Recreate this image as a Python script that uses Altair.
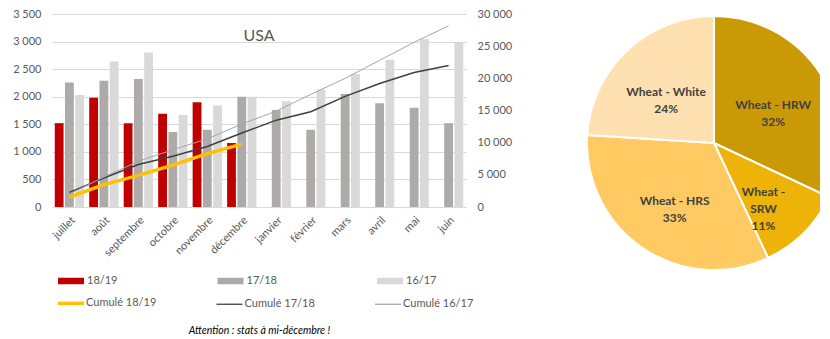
import altair as alt
import pandas as pd

# ---------------- data ----------------
months = ["juillet", "août", "septembre", "octobre", "novembre", "décembre",
          "janvier", "février", "mars", "avril", "mai", "juin"]
bar_series = ["18/19", "17/18", "16/17"]
bar_colors = ["#C00000", "#AEAAAA", "#D9D9D9"]
m_1819 = [1520, 1980, 1520, 1690, 1900, 1160]
m_1718 = [2260, 2290, 2320, 1360, 1400, 2000, 1760, 1400, 2050, 1880, 1800, 1520]
m_1617 = [2030, 2640, 2800, 1670, 1840, 2000, 1920, 2130, 2410, 2670, 3040, 2990]

line_series = ["Cumulé 18/19", "Cumulé 17/18", "Cumulé 16/17"]
line_colors = ["#FFC000", "#404040", "#A6A6A6"]
c_1819 = [1520, 3480, 4900, 6500, 8300, 9780]
c_1718 = [2260, 4500, 6600, 7900, 9400, 11500, 13500, 14800, 17200, 19200, 20900, 22000]
c_1617 = [2050, 4650, 7100, 8900, 10600, 12900, 14900, 17500, 20000, 22800, 25600, 28150]

left_ticks = [0, 500, 1000, 1500, 2000, 2500, 3000, 3500]
right_ticks = [0, 5000, 10000, 15000, 20000, 25000, 30000]

pie_types = ["Wheat - HRW", "Wheat - SRW", "Wheat - HRS", "Wheat - White"]
pie_labels = ["Wheat - HRW", "Wheat -\nSRW", "Wheat - HRS", "Wheat - White"]
pie_pct = [32, 11, 33, 24]
pie_colors = ["#C99A06", "#EDB308", "#FFCA61", "#FFE0B0"]

# ---------------- tables ----------------
bar_rows = []
for name, vals in zip(bar_series, [m_1819, m_1718, m_1617]):
    for m, v in zip(months, vals):
        bar_rows.append({"month": m, "series": name, "value": v})
bars_df = pd.DataFrame(bar_rows)

line_rows = []
for name, vals in zip(line_series, [c_1819, c_1718, c_1617]):
    for m, v in zip(months, vals):
        line_rows.append({"month": m, "series": name, "value": v})
lines_df = pd.DataFrame(line_rows)

pie_df = pd.DataFrame({"type": pie_types, "label": pie_labels, "pct": pie_pct,
                       "idx": list(range(len(pie_types)))})

FONT = "Lato"
GREY = "#595959"
thousands = "replace(format(datum.value, ','), regexp(',', 'g'), ' ')"

x_enc = alt.X(
    "month:N", sort=months,
    scale=alt.Scale(domain=months, paddingInner=0.15, paddingOuter=0.08),
    axis=alt.Axis(
        title="Attention : stats à mi-décembre !", titleFontStyle="italic",
        titleFont=FONT, titleFontSize=10.5, titleFontWeight="normal",
        titleColor="#000000", titlePadding=68,
        labelAngle=-45, labelFont=FONT, labelFontSize=11, labelColor=GREY,
        domain=False, ticks=False, labelPadding=7,
    ),
)

bars = alt.Chart(bars_df).mark_bar().encode(
    x=x_enc,
    xOffset=alt.XOffset("series:N", sort=bar_series,
                        scale=alt.Scale(domain=bar_series, paddingInner=0.14)),
    y=alt.Y("value:Q", scale=alt.Scale(domain=[0, 3500]),
            axis=alt.Axis(title=None, values=left_ticks, labelExpr=thousands,
                          labelFont=FONT, labelFontSize=11, labelColor=GREY,
                          domain=False, ticks=False, labelPadding=11,
                          gridColor="#D9D9D9", gridWidth=1)),
    fill=alt.Fill("series:N", sort=bar_series,
                  scale=alt.Scale(domain=bar_series, range=bar_colors),
                  legend=alt.Legend(title=None, orient="none", legendX=6, legendY=254,
                                    direction="horizontal", columns=3, columnPadding=99.5,
                                    symbolType="M-1,-0.25H1V0.25H-1Z", symbolSize=676,
                                    symbolStrokeWidth=0, labelOffset=3, padding=0,
                                    labelFont=FONT, labelFontSize=11, labelColor=GREY)),
)

line_legend = alt.Legend(
    title=None, orient="none", legendX=6, legendY=283.5,
    direction="horizontal", columns=3, columnPadding=56.5,
    symbolType="stroke", symbolSize=676, symbolOffset=7.5,
    symbolStrokeWidth=alt.ExprRef(expr="datum && datum.value === 'Cumulé 18/19' ? 3.4 : 1.3"),
    labelOffset=9.5, padding=0,
    labelFont=FONT, labelFontSize=11, labelColor=GREY,
)

right_axis = alt.Axis(title=None, orient="right", values=right_ticks, labelExpr=thousands,
                      labelFont=FONT, labelFontSize=11, labelColor=GREY,
                      domain=False, ticks=False, grid=False, labelPadding=11)

line_widths = [3.4, 1.5, 1.0]
line_layers = []
for name, w in zip(line_series, line_widths):
    line_layers.append(
        alt.Chart(lines_df).transform_filter(alt.datum.series == name)
        .mark_line(strokeWidth=w).encode(
            x=x_enc,
            y=alt.Y("value:Q", scale=alt.Scale(domain=[0, 30000]), axis=right_axis),
            stroke=alt.Stroke("series:N", sort=line_series,
                              scale=alt.Scale(domain=line_series, range=line_colors),
                              legend=line_legend),
        )
    )
lines = alt.layer(*line_layers)

left = alt.layer(bars, lines).resolve_scale(
    y="independent", fill="independent", stroke="independent"
).properties(
    width=414, height=193,
    title=alt.TitleParams("USA", font=FONT, fontSize=16, fontWeight="normal",
                          color=GREY, anchor="middle", frame="group", offset=-36),
)

pie_base = alt.Chart(pie_df).transform_calculate(
    text="datum.label + '\\n' + datum.pct + '%'"
).encode(
    theta=alt.Theta("pct:Q", stack=True),
    order=alt.Order("idx:Q"),
    color=alt.Color("type:N", scale=alt.Scale(domain=pie_types, range=pie_colors), legend=None),
    x=alt.value(149), y=alt.value(129),
)
pie = alt.layer(
    pie_base.mark_arc(outerRadius=127, stroke="white", strokeWidth=2, clip=True),
    pie_base.mark_text(radius=70, font=FONT, fontSize=12, fontWeight="bold",
                       color="#404040", lineBreak="\n", lineHeight=17).encode(
        text="text:N", color=alt.value("#404040")),
).properties(width=255, height=300)

chart = alt.hconcat(left, pie, spacing=53).properties(
    padding={"left": 12, "top": 8, "right": 0, "bottom": 0}
).configure(font=FONT).configure_view(strokeWidth=0, stroke="transparent")

chart.save("out.html", embed_options={"renderer": "svg", "actions": False})
